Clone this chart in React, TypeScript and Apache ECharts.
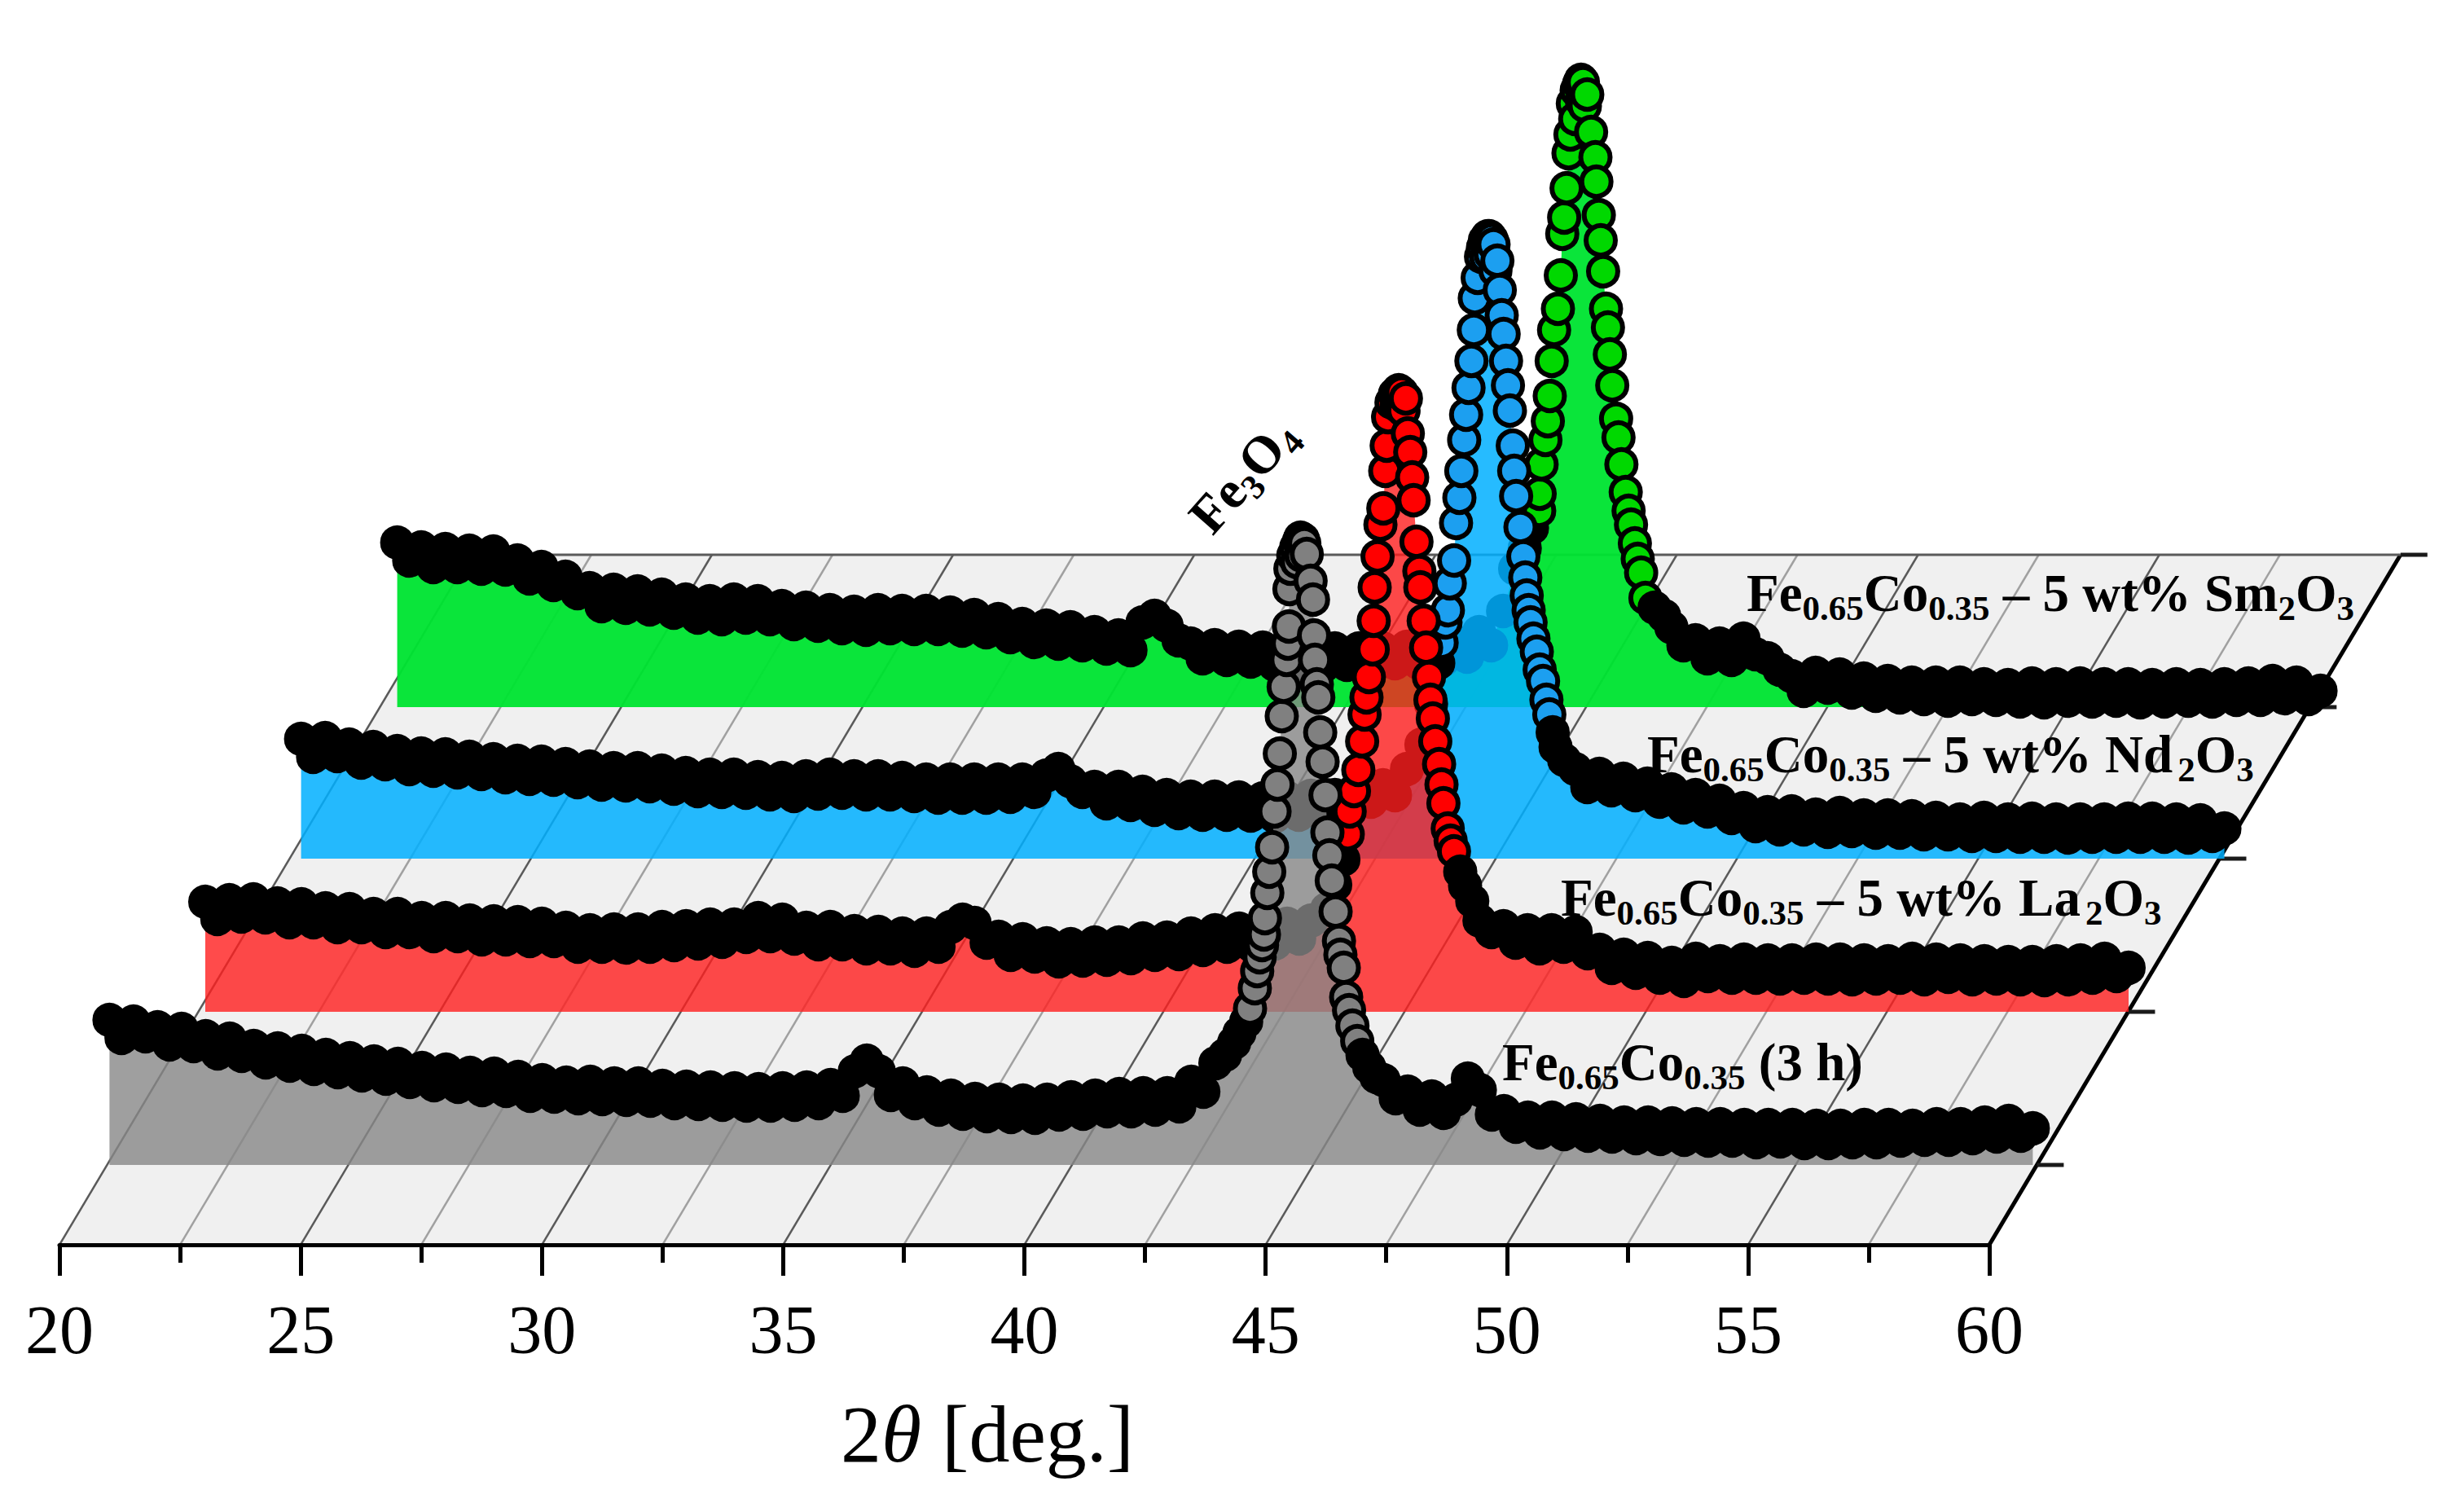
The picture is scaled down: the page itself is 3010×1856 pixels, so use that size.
import React, { useEffect, useRef } from "react";
import * as echarts from "echarts";

const xTicks = [20, 22.5, 25, 27.5, 30, 32.5, 35, 37.5, 40, 42.5, 45, 47.5, 50, 52.5, 55, 57.5, 60];
const depthTicks = [98, 286, 474, 660, 847];
const bandStep = 0.25;
const leftStart = 20;
const rightStart = 46.5;

const grayLeft = [
  178,156,176,158, 169,148,167,146, 158,137,155,134, 146,126,143,122, 140,118,135,114, 131,110,127,106,
  124,102,119,98, 117,96,113,92, 112,91,108,85, 104,84,101,82, 102,81,100,80, 100,79,97,76, 96,75,95,74,
  94,73,93,73, 94,74,95,76, 98,85,115,128, 115,86,100,76, 89,68,85,63, 81,60,80,59, 79,58,80,62,
  83,63,85,66, 87,66,88,68, 88,72,102,90, 125,
];
const grayPeak = [
  [43.2,135],[43.39,150],[43.5,162],[43.64,176],[43.72,192],[43.82,217],[43.87,238],[43.92,255],[43.97,270],[44.01,283],
  [44.03,303],[44.08,334],[44.12,360],[44.18,390],[44.23,434],[44.29,467],[44.34,505],[44.38,551],[44.42,587],[44.48,620],
  [44.51,640],[44.53,661],[44.54,707],[44.56,732],[44.62,748],[44.68,758],[44.7,740],[44.74,766],[44.77,770],[44.79,748],[44.82,768],[44.85,763],
  [44.9,750],[44.98,717],[45.03,694],[45.05,650],[45.07,620],[45.11,590],[45.14,574],[45.18,531],[45.23,495],[45.29,454],
  [45.33,408],[45.37,380],[45.42,349],[45.5,311],[45.57,275],[45.6,258],[45.67,242],[45.72,206],[45.78,190],[45.85,171],
  [45.95,152],[46.06,135],[46.2,120],[46.35,108],
];
const grayRight = [
  104,82, 90,68,84,64, 80,106,92,62, 66,47,58,40, 58,38,56,36, 54,35,52,33, 52,32,51,31, 50,30,50,30,
  49,28,49,29, 49,27,48,27, 48,28,49,28, 49,30,48,31, 50,31,50,33, 52,35,54,36, 45,
];

const redLeft = [
  135,114,137,117, 138,116,133,110, 132,110,127,104, 126,104,120,98, 120,98,115,93, 115,93,112,89,
  111,89,110,87, 108,87,103,80, 100,80,101,79, 101,80,104,82, 105,84,107,86, 107,92,115,93, 113,90,103,83,
  104,83,99,78, 98,78,96,75, 96,80,104,113, 109,85,92,70, 89,68,84,62, 83,63,85,64, 85,66,90,70,
  91,71,96,76, 100,80,102,82, 104,84,108,90, 112,
];
const redPeak = [
  [43.33,126],[43.5,156],[43.67,187],[43.76,218],[43.8,246],[43.89,271],[43.98,297],[44.06,332],[44.11,365],[44.15,386],
  [44.2,411],[44.28,445],[44.3,480],[44.32,521],[44.38,559],[44.44,598],[44.5,618],[44.54,664],[44.57,695],[44.6,730],
  [44.67,748],[44.74,758],[44.78,745],[44.82,763],[44.85,742],[44.88,760],[44.92,738],[44.97,753],[45.01,710],[45.06,687],[45.1,656],[45.13,628],[45.19,577],
  [45.25,541],[45.27,521],[45.34,480],[45.39,447],[45.45,411],[45.48,383],[45.53,360],[45.58,332],[45.66,304],[45.71,279],
  [45.75,256],[45.84,225],[45.9,210],[45.97,197],[46.1,172],[46.2,155],[46.35,136],
];
const redRight = [
  112,98, 105,85,100,78, 100,80,98,72, 76,54,70,48, 66,42,60,38, 65,44,62,42, 64,42,63,41, 63,42,64,41,
  64,40,63,41, 62,42,65,40, 64,43,63,40, 62,41,61,40, 61,39,62,40, 63,42,65,44, 54,
];

const blueLeft = [
  147,125,148,126, 140,118,137,116, 132,110,129,108, 128,106,125,104, 122,100,120,98, 119,97,116,94,
  113,91,111,90, 111,89,108,86, 105,83,103,82, 103,81,100,79, 99,77,101,80, 103,81,101,79, 101,79,99,77,
  97,75,97,75, 97,75,97,76, 97,82,102,110, 95,82,88,68, 88,66,82,60, 78,56,76,54, 76,54,75,53,
  74,52,75,54, 77,55,78,57, 86,70,90,78, 110,
];
const bluePeak = [
  [43.3,140],[43.5,190],[43.65,240],[43.72,265],[43.8,290],[43.85,305],[43.89,338],[43.98,366],[44.02,412],[44.09,443],
  [44.13,476],[44.19,514],[44.23,545],[44.28,578],[44.34,611],[44.39,649],[44.41,688],[44.47,713],[44.54,739],[44.58,750],
  [44.62,759],[44.65,738],[44.68,764],[44.71,764],[44.74,742],[44.76,760],[44.8,754],[44.84,722],[44.88,734],[44.93,698],[44.97,667],[45.01,644],[45.06,611],
  [45.1,581],[45.14,550],[45.2,507],[45.23,476],[45.27,445],[45.36,407],[45.42,371],[45.46,345],[45.49,323],[45.53,305],
  [45.57,290],[45.63,270],[45.7,254],[45.76,232],[45.83,218],[45.9,195],[45.96,177],[46.03,155],[46.09,137],[46.27,121],
];
const blueRight = [
  110,88, 104,84,98,78, 92,70,85,63, 78,58,71,50, 62,40,57,36, 58,36,54,33, 56,34,53,32, 53,32,52,30,
  50,30,48,28, 50,28,48,27, 49,27,48,26, 48,27,48,27, 49,27,49,27, 48,26,47,28, 37,
];

const greenLeft = [
  202,180,196,172, 194,172,192,170, 191,169,180,158, 172,150,160,140, 146,124,144,122, 142,120,138,116,
  132,110,130,108, 132,110,130,108, 124,102,122,100, 119,97,117,95, 119,97,118,96, 118,96,116,94, 113,92,108,86,
  102,80,100,78, 98,76,92,72, 88,70,104,112, 100,82,78,60, 76,58,74,56, 73,52,70,50, 71,50,72,52,
  72,52,72,54, 74,54,78,58, 80,62,92,76, 118,
];
const greenPeak = [
  [43.25,170],[43.45,195],[43.6,220],[43.75,241],[43.76,262],[43.8,298],[43.88,328],[43.93,351],[43.97,382],[44.01,425],
  [44.06,463],[44.14,489],[44.2,530],[44.23,581],[44.27,601],[44.32,637],[44.36,680],[44.4,703],[44.45,741],[44.5,722],[44.53,757],
  [44.58,765],[44.62,770],[44.64,744],[44.66,767],[44.7,738],[44.75,752],[44.83,706],[44.92,675],[44.94,645],[44.99,604],[45.03,573],[45.08,535],
  [45.14,489],[45.18,466],[45.22,433],[45.27,395],[45.35,354],[45.4,331],[45.46,298],[45.55,264],[45.61,241],[45.66,224],
  [45.74,201],[45.8,182],[45.87,165],[45.96,134],[46.15,122],[46.35,112],
];
const greenRight = [
  98,76, 82,60,78,58, 84,65,60,46, 38,20,42,24, 40,18,35,14, 32,12,30,10, 30,8,30,10, 28,9,27,7,
  29,6,28,8, 29,7,28,8, 28,6,27,7, 28,8,27,7, 28,9,29,9, 32,11,30,10, 20,
];

const W = 3010, H = 1856;
const FLOOR = { left: 73, width: 2369, top: 681, height: 847, shear: 0.596 };
const SERIES_H = 800;
const SERIES_W = 2361;

const layers = [
  { name: "Fe0.65Co0.35 – 5 wt% Sm2O3", left: greenLeft, peak: greenPeak, right: greenRight, fill: "#00d800", area: "rgba(0,228,50,0.96)", gridLeft: 487.6, base: 868 },
  { name: "Fe0.65Co0.35 – 5 wt% Nd2O3", left: blueLeft, peak: bluePeak, right: blueRight, fill: "#1c9ff0", area: "rgba(0,175,255,0.85)", gridLeft: 369.6, base: 1054 },
  { name: "Fe0.65Co0.35 – 5 wt% La2O3", left: redLeft, peak: redPeak, right: redRight, fill: "#ff0000", area: "rgba(255,30,30,0.8)", gridLeft: 252, base: 1242 },
  { name: "Fe0.65Co0.35 (3 h)", left: grayLeft, peak: grayPeak, right: grayRight, fill: "#808080", area: "rgba(135,135,135,0.8)", gridLeft: 134.4, base: 1430 },
];

const PEAK_FROM = 43.7;
const PEAK_TO = 46.0;

function points(l: (typeof layers)[number]) {
  const raw: number[][] = [];
  l.left.forEach((v, i) => raw.push([leftStart + i * bandStep, v]));
  l.peak.forEach((p) => raw.push(p));
  l.right.forEach((v, i) => raw.push([rightStart + i * bandStep, v]));
  raw.sort((a, b) => a[0] - b[0]);
  return raw.map((p) => ({
    value: p,
    itemStyle: { color: p[0] >= PEAK_FROM && p[0] <= PEAK_TO ? l.fill : "#000" },
  }));
}

const serif = "'Liberation Serif', serif";
const LABEL = 65;
const SUB = 43;
const rich = {
  m: { fontFamily: serif, fontWeight: "bold", fontSize: LABEL, fill: "#000", color: "#000", lineHeight: 80 },
  s: { fontFamily: serif, fontWeight: "bold", fontSize: SUB, fill: "#000", color: "#000", lineHeight: 80, verticalAlign: "bottom", padding: [22, 0, 0, 0] },
  t: { fontFamily: serif, fontSize: 24, fill: "#000", color: "#000", lineHeight: 80 },
};
const labelText = (oxide: string) => `{m|Fe}{s|0.65}{m|Co}{s|0.35}{m| ${oxide}`;

export default function App() {
  const ref = useRef<HTMLDivElement>(null);
  useEffect(() => {
    const chart = echarts.init(ref.current!, undefined, { renderer: "svg" });
    const grid: any[] = [
      { left: FLOOR.left, width: FLOOR.width, top: FLOOR.top, height: FLOOR.height },
      ...layers.map((l) => ({ left: l.gridLeft, width: SERIES_W, top: l.base - SERIES_H, height: SERIES_H })),
    ];
    const xAxis: any[] = [
      {
        type: "value", gridIndex: 0, min: 20, max: 60, interval: 5, z: 10,
        axisLine: { show: true, onZero: false, lineStyle: { color: "#000", width: 5 } },
        axisTick: { show: true, inside: false, length: 38, lineStyle: { color: "#000", width: 5 } },
        minorTick: { show: true, splitNumber: 2, length: 22, lineStyle: { color: "#000", width: 5 } },
        axisLabel: { show: true, margin: 62, fontFamily: serif, fontSize: 84, color: "#000" },
        splitLine: { show: false },
      },
      ...layers.map((_, i) => ({ type: "value", gridIndex: i + 1, min: 20, max: 60, show: false })),
    ];
    const yAxis: any[] = [
      { type: "value", gridIndex: 0, min: 0, max: FLOOR.height, show: false },
      ...layers.map((_, i) => ({ type: "value", gridIndex: i + 1, min: 0, max: SERIES_H, show: false })),
    ];
    const floor = {
      type: "custom", xAxisIndex: 0, yAxisIndex: 0, z: 1, silent: true, data: [[20, 60]],
      renderItem: (_: any, api: any) => {
        const a = api.coord([20, 0]);
        const b = api.coord([60, 0]);
        const dx = FLOOR.height * FLOOR.shear;
        return {
          type: "polygon",
          shape: { points: [a, b, [b[0] + dx, b[1] - FLOOR.height], [a[0] + dx, a[1] - FLOOR.height]] },
          style: { fill: "#f0f0f0" },
        };
      },
    };
    const gridLines = {
      type: "custom", xAxisIndex: 0, yAxisIndex: 0, z: 2, silent: true, data: xTicks.map((x) => [x]),
      renderItem: (_: any, api: any) => {
        const x = api.value(0);
        const a = api.coord([x, 0]);
        const dx = FLOOR.height * FLOOR.shear;
        const last = x === 60;
        return {
          type: "line",
          shape: { x1: a[0], y1: a[1], x2: a[0] + dx, y2: a[1] - FLOOR.height },
          style: { stroke: last ? "#000" : x % 5 === 0 ? "#5a5a5a" : "#a0a0a0", lineWidth: last ? 5 : 2.5 },
        };
      },
    };
    const depthLines = {
      type: "custom", xAxisIndex: 0, yAxisIndex: 0, z: 2, silent: true, data: depthTicks.map((d) => [d]),
      renderItem: (_: any, api: any) => {
        const d = api.value(0);
        const a = api.coord([60, d]);
        const x = a[0] + d * FLOOR.shear;
        return { type: "line", shape: { x1: x, y1: a[1], x2: x + 33, y2: a[1] }, style: { stroke: "#1a1a1a", lineWidth: 5 } };
      },
    };
    const backLine = {
      type: "custom", xAxisIndex: 0, yAxisIndex: 0, z: 2, silent: true, data: [[FLOOR.height]],
      renderItem: (_: any, api: any) => {
        const d = api.value(0);
        const a = api.coord([20, d]);
        const b = api.coord([60, d]);
        const dx = d * FLOOR.shear;
        return { type: "line", shape: { x1: a[0] + dx, y1: a[1], x2: b[0] + dx, y2: b[1] }, style: { stroke: "#5a5a5a", lineWidth: 3 } };
      },
    };
    const lines = layers.map((l, i) => ({
      type: "line", name: l.name, xAxisIndex: i + 1, yAxisIndex: i + 1, z: 3 + i, clip: false,
      symbol: "circle", symbolSize: 36, showAllSymbol: true, smooth: false,
      lineStyle: { width: 0, opacity: 0 },
      itemStyle: { borderColor: "#000", borderWidth: 6, color: l.fill },
      areaStyle: { color: l.area, opacity: 1, origin: "start" },
      data: points(l),
    }));
    chart.setOption({
      animation: false,
      backgroundColor: "#fff",
      grid,
      xAxis,
      yAxis,
      series: [floor, gridLines, depthLines, backLine, ...lines],
      graphic: [
        { type: "text", z: 100, x: 2144, y: 688, style: { text: labelText("– 5 wt% Sm}{s|2}{m|O}{s|3}"), rich } },
        { type: "text", z: 100, x: 2022, y: 886, style: { text: labelText("– 5 wt% Nd}{t| }{s|2}{m|O}{s|3}"), rich } },
        { type: "text", z: 100, x: 1916, y: 1062, style: { text: labelText("– 5 wt% La}{t| }{s|2}{m|O}{s|3}"), rich } },
        { type: "text", z: 100, x: 1844, y: 1264, style: { text: labelText("(3 h)}"), rich } },
        { type: "text", z: 100, x: 1442, y: 618, rotation: 0.85, style: { text: "{m|Fe}{s|3}{m|O}{s|4}", rich } },
        {
          type: "text", z: 100, x: 1032, y: 1710,
          style: {
            text: "{a|2}{b|θ}{a| [deg.]}",
            rich: {
              a: { fontFamily: serif, fontSize: 100, fill: "#000", color: "#000" },
              b: { fontFamily: serif, fontSize: 100, fontStyle: "italic", fill: "#000", color: "#000" },
            },
          },
        },
      ],
    });
    return () => chart.dispose();
  }, []);
  return <div ref={ref} style={{ position: "absolute", left: 0, top: 0, width: W, height: H }} />;
}
